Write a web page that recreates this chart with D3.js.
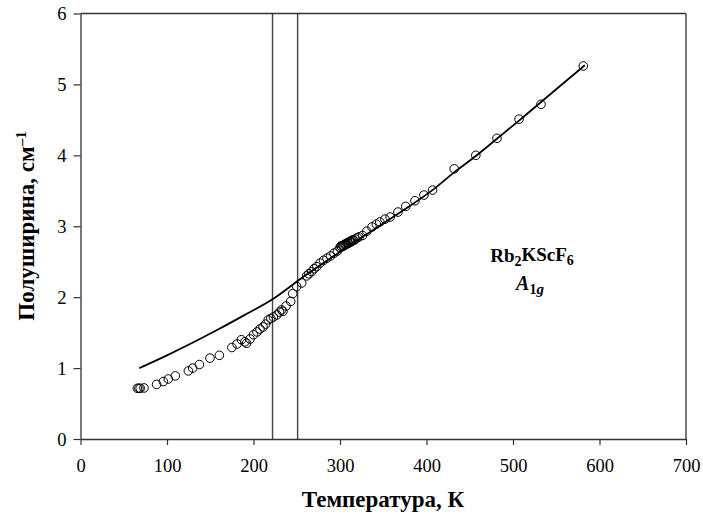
<!DOCTYPE html>
<html>
<head>
<meta charset="utf-8">
<script src="https://cdn.jsdelivr.net/npm/d3@7"></script>
<style>
  html, body { margin: 0; padding: 0; background: #fff; }
  svg { display: block; }
  text { font-family: "Liberation Serif", "Times New Roman", serif; fill: #000; }
</style>
</head>
<body>
<svg id="chart" width="703" height="521"></svg>
<script>
// Measured half-width of the A1g line versus temperature
const tempK = [65.7, 67.5, 69, 73.4, 88, 95.8, 101.5, 109.6, 124.7, 129.7, 137.4, 149.7, 160.5,
  175, 181, 186, 190, 192, 196, 200, 204, 207.5, 211, 214, 217, 220, 223, 227, 230, 232.5, 234,
  237.6, 243, 245.3, 249.9, 255.7, 261.5, 264, 267.3, 270, 273, 277, 281, 285, 289, 293, 297,
  300, 301, 302, 303, 304, 305, 306, 307, 308, 309, 310, 311, 312, 313, 314, 315, 316, 318, 320, 322,
  326, 331, 337, 342, 346, 352, 358, 367, 376, 386.7, 397, 407, 432, 457, 481.5, 507, 532.4, 581.3];
const halfWidth = [0.715, 0.715, 0.715, 0.72, 0.77, 0.81, 0.846, 0.89, 0.96, 1.0, 1.05, 1.14, 1.18,
  1.29, 1.34, 1.40, 1.37, 1.35, 1.41, 1.47, 1.51, 1.55, 1.58, 1.62, 1.68, 1.70, 1.72, 1.75, 1.79, 1.82, 1.80,
  1.875, 1.94, 2.05, 2.15, 2.20, 2.30, 2.33, 2.36, 2.40, 2.43, 2.48, 2.52, 2.55, 2.58, 2.62, 2.65,
  2.70, 2.72, 2.71, 2.73, 2.72, 2.74, 2.75, 2.74, 2.76, 2.77, 2.76, 2.78, 2.79, 2.78, 2.80, 2.81, 2.80, 2.82, 2.84, 2.85,
  2.87, 2.93, 2.99, 3.03, 3.06, 3.10, 3.13, 3.20, 3.28, 3.36, 3.44, 3.51, 3.81, 4.00, 4.24, 4.51, 4.72, 5.26];

// Model curve through the high-temperature data
const fitT = [68, 100, 130, 160, 190, 222, 258, 310, 360, 408, 432, 457, 481, 507, 540, 583];
const fitW = [1.00, 1.18, 1.36, 1.55, 1.75, 1.97, 2.29, 2.72, 3.12, 3.52, 3.76, 3.99, 4.23, 4.49, 4.83, 5.27];

// Phase transition markers
const transitionT = [222, 251];

const xTicks = [0, 100, 200, 300, 400, 500, 600, 700];
const yTicks = [0, 1, 2, 3, 4, 5, 6];

const svg = d3.select("#chart");
const m = { left: 80.5, right: 686, top: 13.5, bottom: 439 };

const x = d3.scaleLinear().domain([0, 700]).range([m.left, m.right]);
const y = d3.scaleLinear().domain([0, 6]).range([m.bottom, m.top]);

const axisColor = "#333";

// transition lines
svg.append("g").selectAll("line").data(transitionT).join("line")
  .attr("x1", d => x(d)).attr("x2", d => x(d))
  .attr("y1", m.top).attr("y2", m.bottom)
  .attr("stroke", "#444").attr("stroke-width", 1.4);

// frame (top and right)
svg.append("line").attr("x1", m.left).attr("x2", m.right).attr("y1", m.top).attr("y2", m.top)
  .attr("stroke", axisColor).attr("stroke-width", 1.3);
svg.append("line").attr("x1", m.right).attr("x2", m.right).attr("y1", m.top).attr("y2", m.bottom)
  .attr("stroke", axisColor).attr("stroke-width", 1.3);

// axes
const xAxis = d3.axisBottom(x).tickValues(xTicks).tickFormat(d3.format("d"))
  .tickSize(6).tickPadding(14).tickSizeOuter(0);
const yAxis = d3.axisLeft(y).tickValues(yTicks).tickFormat(d3.format("d"))
  .tickSize(7).tickPadding(7).tickSizeOuter(0);

const gx = svg.append("g").attr("transform", `translate(0,${m.bottom})`).call(xAxis);
const gy = svg.append("g").attr("transform", `translate(${m.left},0)`).call(yAxis);
[gx, gy].forEach(g => {
  g.attr("font-family", null).attr("font-size", null);
  g.select(".domain").attr("stroke", axisColor).attr("stroke-width", 1.3);
  g.selectAll(".tick line").attr("stroke", axisColor).attr("stroke-width", 1.2);
  g.selectAll(".tick text").style("font-family", '"Liberation Serif", serif')
    .style("font-size", "18.5px").attr("fill", "#000");
});
gy.selectAll(".tick text").attr("dy", "0.35em");

// model curve
const pts = fitT.map((t, i) => [t, fitW[i]]);
svg.append("path").datum(pts)
  .attr("d", d3.line().x(d => x(d[0])).y(d => y(d[1])).curve(d3.curveMonotoneX))
  .attr("fill", "none").attr("stroke", "#000").attr("stroke-width", 1.8);

// measured points
svg.append("g").selectAll("circle").data(tempK.map((t, i) => [t, halfWidth[i]])).join("circle")
  .attr("cx", d => x(d[0])).attr("cy", d => y(d[1])).attr("r", 4.3)
  .attr("fill", "none").attr("stroke", "#000").attr("stroke-width", 1);

// axis titles
svg.append("text").attr("x", 383).attr("y", 507)
  .attr("text-anchor", "middle").style("font-size", "23px").style("font-weight", "bold")
  .text("Температура, К");

const yt = svg.append("text").attr("transform", "translate(34,226) rotate(-90)")
  .attr("text-anchor", "middle").style("font-size", "23px").style("font-weight", "bold");
yt.append("tspan").text("Полуширина, см");
yt.append("tspan").attr("dy", "-0.55em").style("font-size", "15px").text("–1");

// compound label
const lab = svg.append("text").attr("x", 532).attr("y", 262)
  .attr("text-anchor", "middle").style("font-size", "19px").style("font-weight", "bold");
lab.append("tspan").text("Rb");
lab.append("tspan").attr("dy", "0.3em").style("font-size", "14px").text("2");
lab.append("tspan").attr("dy", "-0.3em").text("KScF");
lab.append("tspan").attr("dy", "0.3em").style("font-size", "14px").text("6");

const lab2 = svg.append("text").attr("x", 530).attr("y", 290)
  .attr("text-anchor", "middle").style("font-size", "20px").style("font-weight", "bold");
lab2.append("tspan").style("font-style", "italic").text("A");
lab2.append("tspan").attr("dy", "0.3em").style("font-size", "14px").text("1");
lab2.append("tspan").style("font-size", "15px").style("font-style", "italic").text("g");
</script>
</body>
</html>
